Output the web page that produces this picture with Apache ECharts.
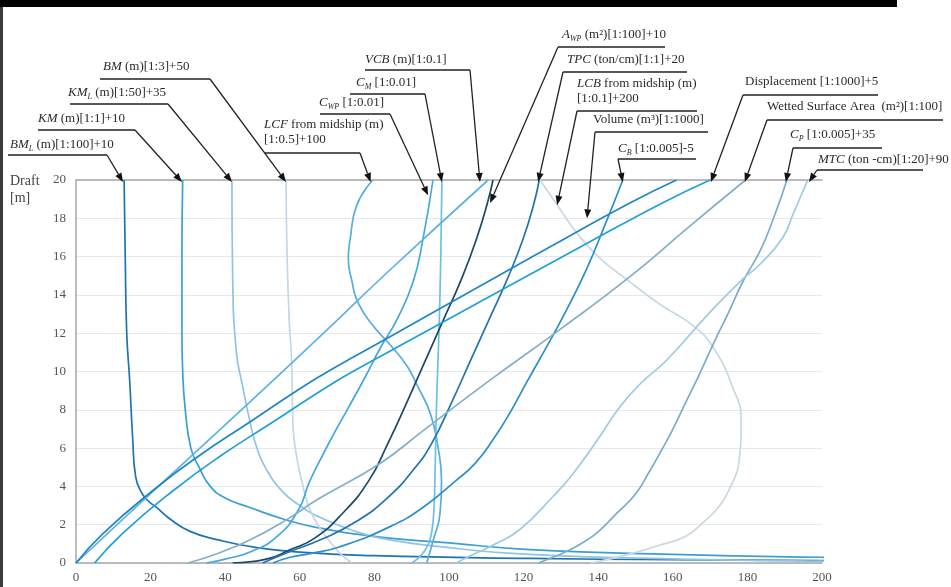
<!DOCTYPE html>
<html>
<head>
<meta charset="utf-8">
<script src="https://cdn.jsdelivr.net/npm/echarts@6/dist/echarts.min.js"></script>
<style>
  html, body { margin: 0; padding: 0; background: #fff; }
  #chart { width: 951px; height: 587px; }
</style>
</head>
<body>
<div id="chart"></div>
<script>
// ===== Data: each point is [scaled value, draft (m)] =====
const xTicks = [0, 20, 40, 60, 80, 100, 120, 140, 160, 180, 200];
const yTicks = [0, 2, 4, 6, 8, 10, 12, 14, 16, 18, 20];

const bmL = [[12.9,20],[13.2,16],[13.6,12],[14.4,9.5],[15.2,6.5],[16,4.5],[17.5,3.7],[19.3,3.25],[21.6,2.9],[25.2,2.3],[30.6,1.65],[37.8,1.22],[48.5,0.8],[61,0.55],[80,0.38],[121.7,0.24],[160,0.17],[200,0.13],[240,0.1]];
const km = [[28.6,20],[28.4,16],[28.4,12],[28.6,10],[29.3,8],[30.8,6],[33,5],[36,4],[40,3.4],[46.6,2.9],[55.5,2.3],[64.6,1.85],[81.5,1.35],[100,1.05],[121.7,0.7],[160,0.45],[200,0.3],[240,0.22]];
const kmL = [[41.8,20],[42,15],[43,11],[44.6,9.3],[46.5,7.5],[48.5,6],[51,4.9],[55.5,3.7],[60,3],[64.6,2.45],[73.5,1.75],[81.5,1.3],[100,0.8],[121.7,0.45],[160,0.22],[200,0.1],[240,0.06]];
const bm = [[56.3,20],[56.6,16],[57.2,12.5],[57.8,10.6],[58.2,7.1],[59.2,5.5],[60.5,4.3],[62.7,2.8],[66.2,1.6],[70.8,0.5],[74,0]];
const lcf = [[79.6,20],[75.3,18.7],[73.5,16.9],[73,15.9],[74,14.7],[75.6,13.6],[79.6,12.4],[84.2,11.4],[88.7,10.3],[91.4,9.3],[95,7.8],[97,6.1],[98,4.3],[97.6,2.6],[95.8,1.2],[94,0]];
const cwp = [[95.7,20],[93,16.9],[90.4,14.7],[86,12.7],[81.5,11.2],[77.5,9.7],[73,8.1],[69,6.7],[65.5,5.4],[62.5,4.2],[59.7,2.8],[54,1.4],[47,0.6],[40,0.2],[35,0]];
const cm = [[98.1,20],[97.8,16],[97.3,12],[96.8,9.2],[96.5,7],[96.3,5],[96,3],[95.5,1.8],[94.5,1],[92.5,0.4],[90,0]];
const vcb = [[0,0],[8.5,1.55],[21,3.8],[46.3,8.35],[68,12.3],[82.5,15],[110.5,20]];
const awp = [[42,0],[51,0.2],[57.5,0.7],[64,1.3],[71.5,2.6],[78.5,4.3],[83.5,6.2],[88.5,8.3],[93.5,10.5],[98.5,12.7],[103.5,14.9],[107.5,17],[110.3,18.8],[111.8,20]];
const tpc = [[50,0],[57.4,0.6],[66,1.25],[75,2.15],[83.5,3.4],[91,5],[95.5,6.3],[100.5,8.3],[105.6,10.5],[110.7,12.7],[115.8,14.9],[120,17],[122.8,18.8],[124.2,20]];
const lcb = [[124.4,20],[129,18.7],[134,17.3],[140,16],[147.7,14.8],[156.6,13.5],[165.4,12.4],[171,11.2],[176,9.2],[178.3,7.5],[177.7,5.2],[175.5,4],[172.6,3],[168,2.1],[163.5,1.4],[156,0.9],[150,0.55],[143,0.2],[138,0]];
const volume = [[0,0],[7.3,1.55],[20.7,3.8],[33,5.6],[46.6,7.36],[60,9.1],[68,10.05],[85,11.9],[105,14.1],[127,16.5],[148.5,18.8],[161,20]];
const cb = [[52.8,0],[57.4,0.3],[63,0.5],[70.8,0.85],[84.2,1.9],[93,2.9],[102,4.33],[107,5.2],[112,6.5],[116.5,7.9],[121,9.5],[126.5,11.4],[132,13.4],[137,15.4],[141.5,17.5],[146.6,20]];
const displacement = [[5,0],[12.5,1.55],[26.2,3.8],[38.8,5.6],[52.8,7.36],[66.5,9.1],[74.7,10.05],[92.1,11.9],[112.6,14.1],[135.2,16.5],[157.2,18.8],[170,20]];
const wsa = [[30,0],[38,0.5],[46.6,1.2],[56,2.2],[64.6,3.3],[81.5,5.2],[93,6.9],[111,9.55],[129.8,12.2],[148.5,14.95],[164,17.5],[179.5,20]];
const cp = [[124,0],[128,0.31],[132,0.65],[137,1.2],[140.5,1.72],[145,2.6],[150,3.6],[153.5,4.7],[157,5.9],[160.3,7.1],[163.5,8.4],[167,9.8],[171,11.5],[175,13.1],[178.8,14.7],[183.4,16.3],[187,18],[190.6,20]];
const mtc = [[102,0],[106,0.4],[112,0.95],[119,1.75],[128,3.5],[133,4.6],[139,6.2],[146,8.2],[151.5,9.4],[158.4,10.6],[169.5,13],[178.6,14.8],[183.4,15.6],[189.5,17],[192.2,18.2],[196.2,20]];

// label text (rich) and where each arrow points, in chart units
const labels = [
  '{i|BM}{s|L}{n| (m)[1:100]+10}',
  '{i|KM}{n| (m)[1:1]+10}',
  '{i|KM}{s|L}{n| (m)[1:50]+35}',
  '{i|BM}{n| (m)[1:3]+50}',
  '{i|LCF}{n| from midship (m)}\n{n|[1:0.5]+100}',
  '{i|C}{s|WP}{n| [1:0.01]}',
  '{i|C}{s|M}{n| [1:0.01]}',
  '{i|VCB}{n| (m)[1:0.1]}',
  '{i|A}{s|WP}{n| (m²)[1:100]+10}',
  '{i|TPC}{n| (ton/cm)[1:1]+20}',
  '{i|LCB}{n| from midship (m)}\n{n|[1:0.1]+200}',
  '{n|Volume (m³)[1:1000]}',
  '{i|C}{s|B}{n| [1:0.005]-5}',
  '{n|Displacement [1:1000]+5}',
  '{n|Wetted Surface Area  (m²)[1:100]}',
  '{i|C}{s|P}{n| [1:0.005]+35}',
  '{i|MTC}{n| (ton -cm)[1:20]+90}'
];
const noteTargets = [
  [12.6,19.9],[28.4,19.9],[41.8,19.9],[56.3,19.9],[79,19.9],[94.4,19.2],[98.1,19.9],[108.3,19.9],
  [111,18.8],[123.9,19.9],[129,18.7],[137,18.0],[146.6,19.9],[170.2,19.9],[179.3,19.9],[190.3,19.9],[196.5,19.9]
];

// ===== Layout of the call-outs (pixels) =====
const noteLayout = [
  { tx: 10,  ty: 145, u: [8, 107, 155],   side: 'r' },
  { tx: 38,  ty: 119, u: [38, 135, 130],  side: 'r' },
  { tx: 68,  ty: 93,  u: [70, 168, 104],  side: 'r' },
  { tx: 103, ty: 67,  u: [100, 210, 79],  side: 'r' },
  { tx: 264, ty: 132, u: [265, 360, 153], side: 'r' },
  { tx: 319, ty: 103, u: [320, 390, 114], side: 'r' },
  { tx: 356, ty: 83,  u: [350, 425, 94],  side: 'r' },
  { tx: 365, ty: 60,  u: [365, 470, 70],  side: 'r' },
  { tx: 562, ty: 35,  u: [558, 665, 47],  side: 'l' },
  { tx: 567, ty: 60,  u: [563, 687, 72],  side: 'l' },
  { tx: 577, ty: 91,  u: [577, 697, 111], side: 'l' },
  { tx: 593, ty: 120, u: [595, 708, 132], side: 'l' },
  { tx: 618, ty: 149, u: [618, 696, 159], side: 'l' },
  { tx: 745, ty: 82,  u: [743, 878, 95],  side: 'l' },
  { tx: 767, ty: 107, u: [767, 943, 120], side: 'l' },
  { tx: 790, ty: 135, u: [793, 882, 148], side: 'l' },
  { tx: 818, ty: 160, u: [817, 923, 170], side: 'l' }
];

const SERIF = '"Liberation Serif", "DejaVu Serif", serif';

const curves = [
  { name: 'BM_L', data: bmL, color: '#1e74ad' },
  { name: 'KM', data: km, color: '#3b9fd6' },
  { name: 'KM_L', data: kmL, color: '#8fc4e3' },
  { name: 'BM', data: bm, color: '#c2d8e6' },
  { name: 'LCF', data: lcf, color: '#55ade0' },
  { name: 'C_WP', data: cwp, color: '#45a8de' },
  { name: 'C_M', data: cm, color: '#6cbfe8' },
  { name: 'VCB', data: vcb, color: '#5fb3e3' },
  { name: 'A_WP', data: awp, color: '#1a4a6b' },
  { name: 'TPC', data: tpc, color: '#2374aa' },
  { name: 'LCB', data: lcb, color: '#c8d9e2' },
  { name: 'Volume', data: volume, color: '#2186c4' },
  { name: 'C_B', data: cb, color: '#2c8ecb' },
  { name: 'Displacement', data: displacement, color: '#1fa0d8' },
  { name: 'WSA', data: wsa, color: '#84afc9' },
  { name: 'C_P', data: cp, color: '#7aaccd' },
  { name: 'MTC', data: mtc, color: '#9ccbe5' }
];

const chart = echarts.init(document.getElementById('chart'), null, { renderer: 'canvas' });

const axisGray = '#a6a6a6';
chart.setOption({
  animation: false,
  backgroundColor: '#fff',
  grid: { left: 76, top: 180, width: 746, height: 383, containLabel: false },
  xAxis: [
    {
      type: 'value', min: xTicks[0], max: xTicks[xTicks.length - 1], interval: xTicks[1] - xTicks[0],
      axisLine: { show: true, lineStyle: { color: axisGray, width: 1.5 } },
      axisTick: { show: false },
      splitLine: { show: false },
      axisLabel: { color: '#555', fontFamily: SERIF, fontSize: 13, margin: 8 }
    },
    {
      type: 'value', position: 'top', min: xTicks[0], max: xTicks[xTicks.length - 1],
      axisLine: { show: true, onZero: false, lineStyle: { color: axisGray, width: 1.5 } },
      axisTick: { show: false }, axisLabel: { show: false }, splitLine: { show: false }
    }
  ],
  yAxis: {
    type: 'value', min: yTicks[0], max: yTicks[yTicks.length - 1], interval: yTicks[1] - yTicks[0],
    axisLine: { show: true, lineStyle: { color: axisGray, width: 1.5 } },
    axisTick: { show: false },
    splitLine: { show: true, lineStyle: { color: '#e8e8e8', width: 1 } },
    axisLabel: { color: '#555', fontFamily: SERIF, fontSize: 13, margin: 10 }
  },
  series: curves.map(c => ({
    type: 'line',
    name: c.name,
    data: c.data,
    smooth: 0.5,
    showSymbol: false,
    clip: true,
    lineStyle: { color: c.color, width: 1.7 },
    emphasis: { disabled: true }
  })),
  graphic: [
    { type: 'rect', shape: { x: 0, y: 0, width: 897, height: 7 }, style: { fill: '#000' } },
    { type: 'rect', shape: { x: 0, y: 7, width: 3, height: 580 }, style: { fill: '#3a3a3a' } },
    { type: 'text', x: 10, y: 181, style: { text: 'Draft', font: '14px ' + SERIF, fill: '#444', textVerticalAlign: 'middle' } },
    { type: 'text', x: 10, y: 198, style: { text: '[m]', font: '14px ' + SERIF, fill: '#444', textVerticalAlign: 'middle' } }
  ]
});

// ===== Call-outs: text, underline, arrow to the curve =====
const rich = {
  n: { fontFamily: SERIF, fontSize: 13, lineHeight: 15, color: '#2b2b2b' },
  i: { fontFamily: SERIF, fontSize: 13, lineHeight: 15, fontStyle: 'italic', color: '#2b2b2b' },
  s: { fontFamily: SERIF, fontSize: 8, lineHeight: 8, fontStyle: 'italic', verticalAlign: 'bottom', color: '#2b2b2b' }
};

function buildNotes() {
  const els = [];
  noteLayout.forEach((n, k) => {
    const tip = chart.convertToPixel({ gridIndex: 0 }, noteTargets[k]);
    const [x1, x2, uy] = n.u;
    const start = n.side === 'r' ? [x2, uy] : [x1, uy];
    const dx = tip[0] - start[0], dy = tip[1] - start[1];
    const len = Math.sqrt(dx * dx + dy * dy) || 1;
    const ux = dx / len, uyv = dy / len;
    const head = 9, half = 3.5;
    const base = [tip[0] - ux * head, tip[1] - uyv * head];

    els.push({ type: 'text', x: n.tx, y: n.ty, z: 10,
      style: { text: labels[k], rich, textVerticalAlign: 'middle', fill: '#2b2b2b' } });
    els.push({ type: 'polyline', z: 10, shape: { points: [[x1, uy], [x2, uy]] },
      style: { stroke: '#222', lineWidth: 1.3, fill: null } });
    els.push({ type: 'polyline', z: 10, shape: { points: [start, base] },
      style: { stroke: '#222', lineWidth: 1.3, fill: null } });
    els.push({ type: 'polygon', z: 10, shape: { points: [
      tip,
      [base[0] - uyv * half, base[1] + ux * half],
      [base[0] + uyv * half, base[1] - ux * half]
    ] }, style: { fill: '#111' } });
  });
  return els;
}

const baseGraphic = chart.getOption().graphic[0].elements.map(e => ({ type: e.type, shape: e.shape, x: e.x, y: e.y, style: e.style }));
chart.setOption({ graphic: baseGraphic.concat(buildNotes()) }, { replaceMerge: ['graphic'] });
</script>
</body>
</html>
